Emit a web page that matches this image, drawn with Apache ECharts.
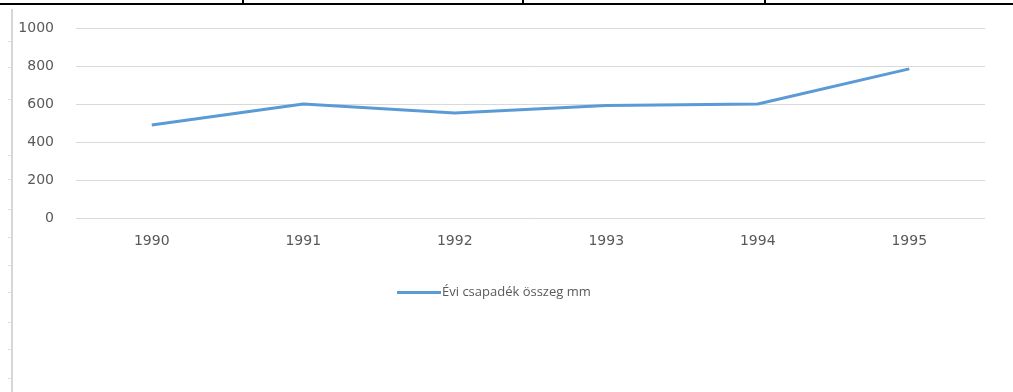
<!DOCTYPE html>
<html>
<head>
<meta charset="utf-8">
<script src="https://cdn.jsdelivr.net/npm/echarts@6/dist/echarts.min.js"></script>
<style>
  html, body { margin: 0; padding: 0; background: #fff; }
  #chart { width: 1013px; height: 392px; }
</style>
</head>
<body>
<div id="chart"></div>
<script>
// Annual precipitation totals (mm), 1990–1995
const years = ['1990', '1991', '1992', '1993', '1994', '1995'];
const precipitation = [490, 600, 552, 592, 600, 785];
const seriesName = 'Évi csapadék összeg mm';
const yTicks = { min: 0, max: 1000, interval: 200 };

const chart = echarts.init(document.getElementById('chart'), null, { renderer: 'canvas' });

const textColor = '#595959';
const axisFont = '"DejaVu Sans", sans-serif';
const legendFont = '"Open Sans", "Liberation Sans", sans-serif';

// Page frame: table border on top, ruler on the left
const frame = [
  { type: 'rect', shape: { x: 0, y: 3, width: 1013, height: 2 }, style: { fill: '#000' }, silent: true },
  { type: 'rect', shape: { x: 242, y: 0, width: 2, height: 4 }, style: { fill: '#000' }, silent: true },
  { type: 'rect', shape: { x: 522, y: 0, width: 2, height: 4 }, style: { fill: '#000' }, silent: true },
  { type: 'rect', shape: { x: 764, y: 0, width: 2, height: 4 }, style: { fill: '#000' }, silent: true },
  { type: 'rect', shape: { x: 11, y: 9, width: 2, height: 383 }, style: { fill: '#d6d6d6' }, silent: true }
];
[41, 67, 99, 155, 179, 209, 237, 265, 292, 322, 349, 378].forEach(function (y) {
  frame.push({ type: 'rect', shape: { x: 8, y: y, width: 4, height: 1 }, style: { fill: '#dedede' }, silent: true });
});

chart.setOption({
  backgroundColor: '#ffffff',
  animation: false,
  graphic: frame,
  grid: { left: 76, right: 28, top: 28, bottom: 174, containLabel: false },
  legend: {
    data: [{ name: seriesName, icon: 'rect' }],
    top: 281,
    left: 392,
    itemWidth: 44,
    itemHeight: 3,
    itemGap: 0,
    textStyle: { color: textColor, fontFamily: legendFont, fontSize: 13, padding: [0, 0, 0, -4] }
  },
  xAxis: {
    type: 'category',
    data: years,
    boundaryGap: true,
    axisLine: { show: false },
    axisTick: { show: false },
    axisLabel: { color: textColor, fontFamily: axisFont, fontSize: 14, margin: 16 }
  },
  yAxis: {
    type: 'value',
    min: yTicks.min,
    max: yTicks.max,
    interval: yTicks.interval,
    axisLine: { show: false },
    axisTick: { show: false },
    axisLabel: {
      color: textColor, fontFamily: axisFont, fontSize: 14, margin: 22,
      formatter: function (v) { return String(v); }
    },
    splitLine: { lineStyle: { color: '#d9d9d9', width: 1 } }
  },
  series: [{
    name: seriesName,
    type: 'line',
    data: precipitation,
    symbol: 'none',
    lineStyle: { color: '#5b9bd5', width: 3 },
    itemStyle: { color: '#5b9bd5' }
  }]
});
</script>
</body>
</html>
